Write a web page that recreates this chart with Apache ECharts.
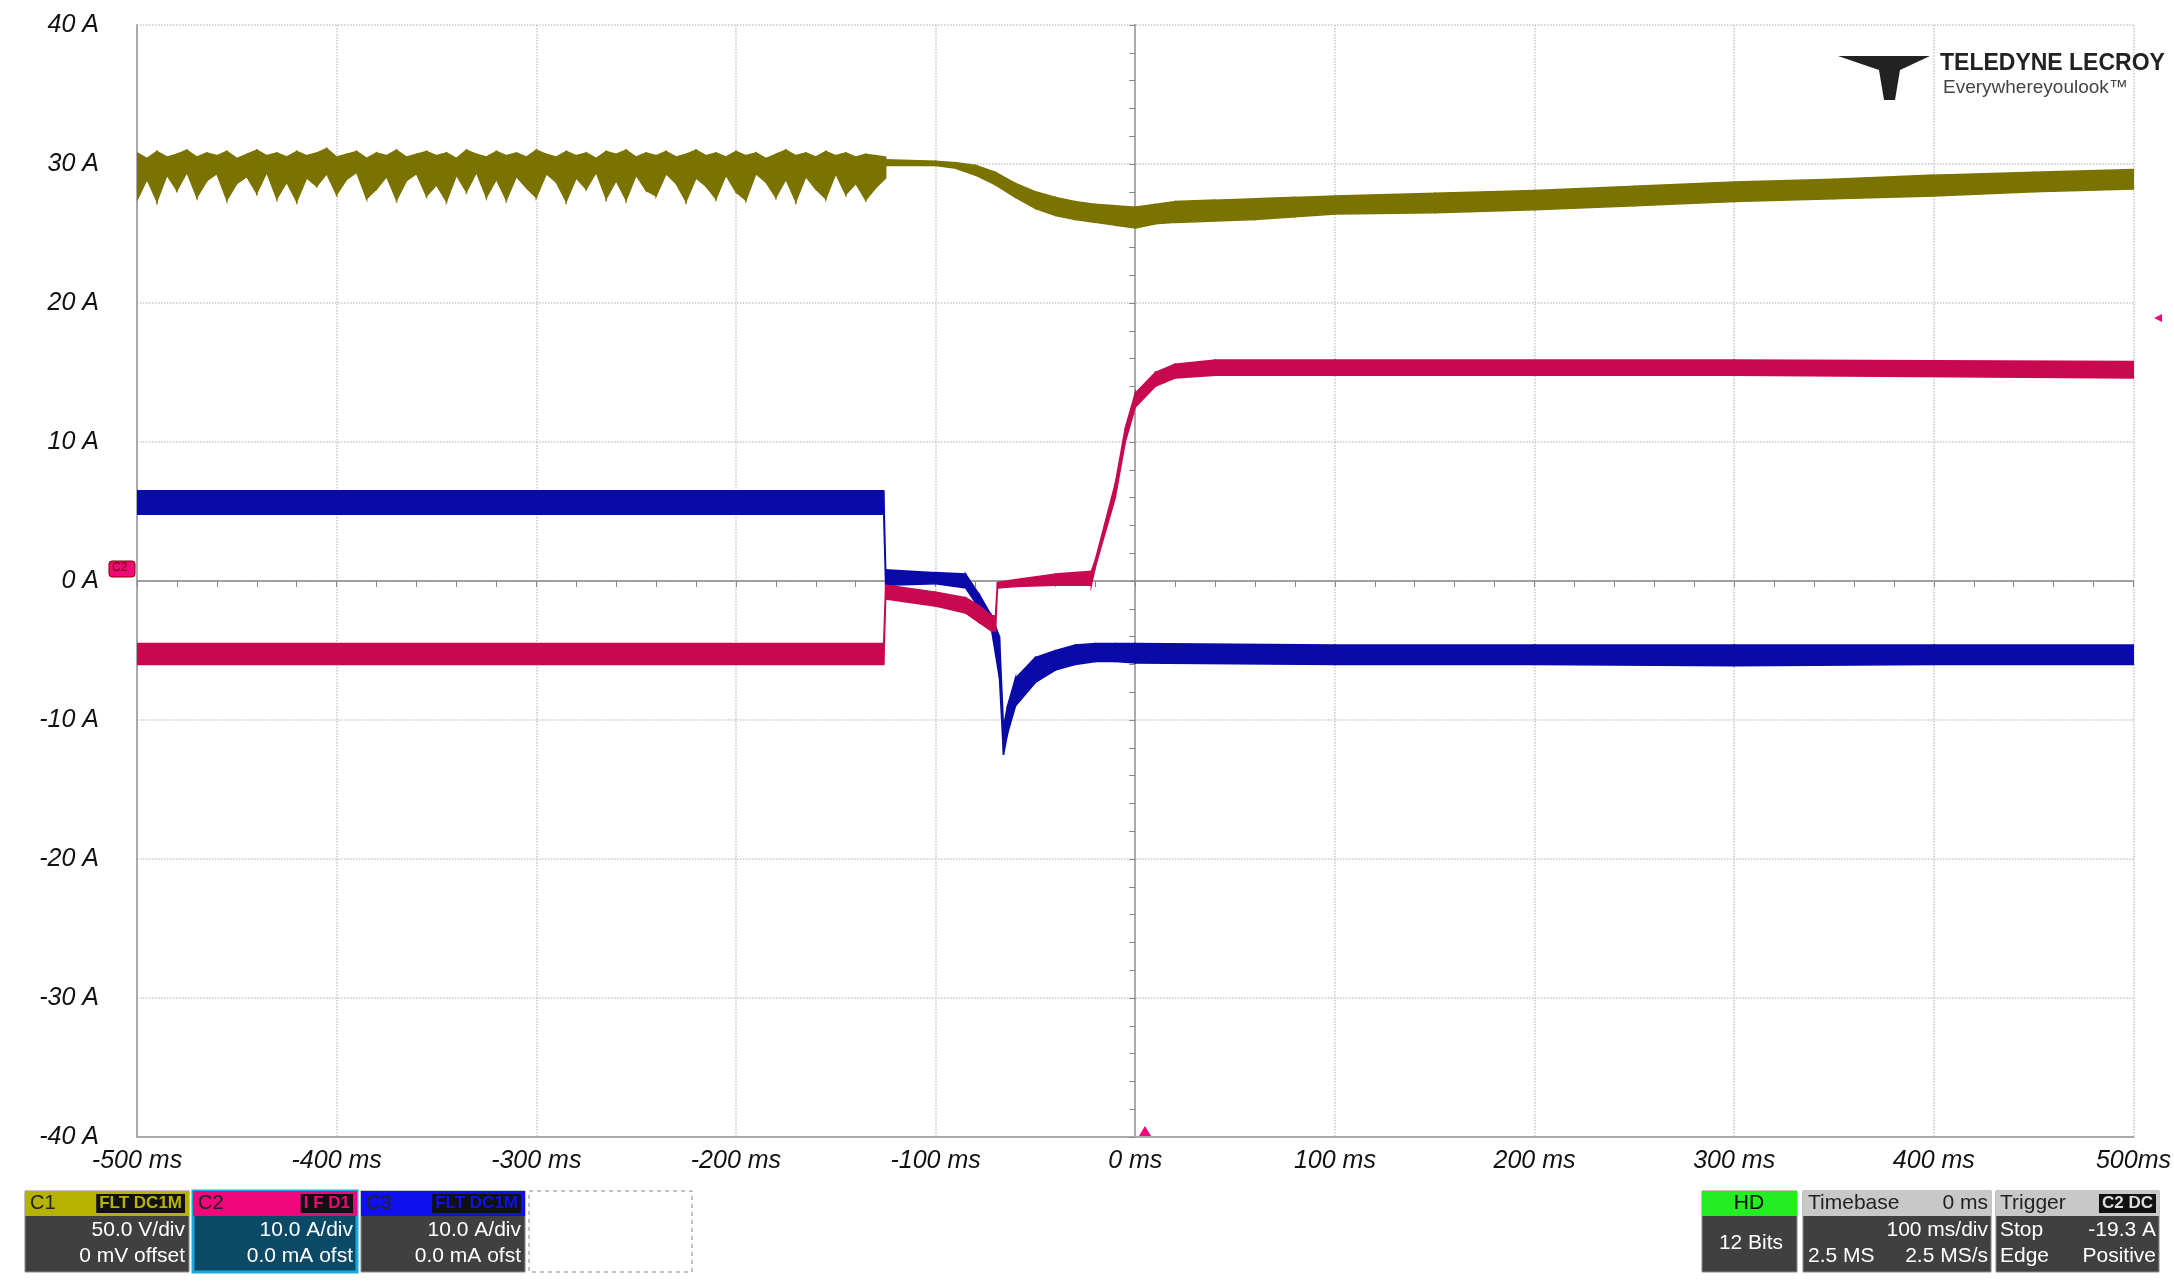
<!DOCTYPE html>
<html><head><meta charset="utf-8">
<script src="https://cdn.jsdelivr.net/npm/echarts@6/dist/echarts.min.js"></script>
<style>html,body{margin:0;padding:0;background:#fff}#c{width:2174px;height:1285px}</style>
</head><body><div id="c"></div>
<script>
// ---- data ----
const yPreT = [-500,-495,-490,-485,-480,-475,-470,-465,-460,-455,-450,-445,-440,-435,-430,-425,-420,-415,-410,-405,-400,-395,-390,-385,-380,-375,-370,-365,-360,-355,-350,-345,-340,-335,-330,-325,-320,-315,-310,-305,-300,-295,-290,-285,-280,-275,-270,-265,-260,-255,-250,-245,-240,-235,-230,-225,-220,-215,-210,-205,-200,-195,-190,-185,-180,-175,-170,-165,-160,-155,-150,-145,-140,-135,-130,-125];
const yPreLow = [27.4,28.9,27.3,29.2,28.1,29.4,27.6,28.8,29.3,27.4,28.6,29.1,27.9,29.4,27.5,28.7,27.3,29.0,28.4,29.3,27.8,28.9,29.4,27.5,28.2,29.1,27.4,28.8,29.3,27.7,28.5,27.3,29.2,28.0,29.4,27.6,28.9,27.4,29.1,28.3,27.6,29.3,28.7,27.3,29.0,28.2,29.4,27.5,28.8,27.4,29.2,28.1,27.7,29.3,28.6,27.3,29.0,28.4,27.5,29.2,28.0,27.4,29.3,28.7,27.6,28.9,27.3,29.1,28.2,27.5,29.3,27.8,28.6,27.4,28.3,29.0];
const yPreHigh = [30.8,30.4,30.9,30.5,30.7,31.0,30.5,30.8,30.6,30.9,30.4,30.7,31.0,30.6,30.8,30.5,30.9,30.6,30.8,31.1,30.5,30.7,30.9,30.4,30.8,30.6,31.0,30.5,30.7,30.9,30.6,30.8,30.4,31.0,30.7,30.5,30.9,30.6,30.8,30.5,31.0,30.7,30.5,30.9,30.6,30.8,30.4,30.9,30.7,31.0,30.5,30.8,30.6,30.9,30.5,30.7,31.0,30.6,30.8,30.5,30.9,30.6,30.8,30.4,30.7,31.0,30.6,30.8,30.5,30.9,30.6,30.8,30.5,30.7,30.6,30.5];
const yPostT = [-125,-100,-90,-80,-70,-60,-50,-40,-30,-20,-10,0,10,20,40,60,80,100,150,200,250,300,350,400,450,500];
const yPostHigh = [30.3,30.2,30.1,29.9,29.4,28.6,28.0,27.6,27.3,27.1,27.0,26.9,27.1,27.3,27.4,27.5,27.6,27.7,27.9,28.1,28.4,28.7,28.9,29.2,29.4,29.6];
const yPostLow = [29.9,29.9,29.7,29.2,28.5,27.6,26.8,26.3,26.0,25.8,25.6,25.4,25.7,25.8,25.9,26.0,26.2,26.4,26.5,26.7,27.0,27.3,27.5,27.7,28.0,28.2];

const bT = [-500,-126,-125,-100,-85,-78,-72,-68,-66,-64,-60,-50,-40,-30,-20,-10,0,100,200,300,400,500];
const bLow = [4.8,4.8,-0.3,-0.2,-0.5,-2.0,-3.5,-7.0,-12.5,-11.0,-9.0,-7.3,-6.4,-6.0,-5.8,-5.8,-5.9,-6.0,-6.0,-6.1,-6.0,-6.0];
const bHigh = [6.5,6.5,0.8,0.6,0.5,-1.0,-2.5,-4.0,-10.5,-9.0,-7.0,-5.5,-5.0,-4.6,-4.5,-4.5,-4.5,-4.6,-4.6,-4.6,-4.6,-4.6];

const pT = [-500,-126,-125,-100,-85,-78,-72,-70,-69,-60,-40,-22,-20,-10,-5,0,10,20,40,100,300,500];
const pLow = [-6.0,-6.0,-1.3,-1.8,-2.3,-3.0,-3.6,-3.6,-0.5,-0.4,-0.3,-0.3,1.0,6.0,10.0,12.5,14.0,14.6,14.8,14.8,14.8,14.6];
const pHigh = [-4.5,-4.5,-0.3,-0.8,-1.2,-1.8,-2.5,-2.5,-0.1,0.1,0.5,0.7,1.5,7.0,11.0,13.5,15.0,15.6,15.9,15.9,15.9,15.8];

const xTicks = ['-500 ms','-400 ms','-300 ms','-200 ms','-100 ms','0 ms','100 ms','200 ms','300 ms','400 ms','500ms'];
const yTicks = ['-40 A','-30 A','-20 A','-10 A','0 A','10 A','20 A','30 A','40 A'];

// ---- helpers ----
function band(name, t, low, high, color) {
  const data = t.map((x,i)=>[x, low[i], high[i]]);
  return {
    name:name, type:'custom', data:data, z:5, animation:false, clip:true,
    encode:{x:0, y:[1,2]},
    renderItem:function(params, api){
      const i = params.dataIndex;
      if (i >= data.length-1) return null;
      const a = data[i], b = data[i+1];
      const pts = [api.coord([a[0],a[1]]), api.coord([b[0],b[1]]), api.coord([b[0],b[2]]), api.coord([a[0],a[2]])];
      return {type:'polygon', shape:{points:pts}, style:{fill:color, stroke:color, lineWidth:1.5}};
    }
  };
}
const YEL='#7a7300', PINK='#c8094f', BLUE='#0a0aa8';
const lab = {fontFamily:'Liberation Sans', fontStyle:'italic', fontSize:25, color:'#111'};

const series = [
  band('C1a', yPreT, yPreLow, yPreHigh, YEL),
  band('C1b', yPostT, yPostLow, yPostHigh, YEL),
  band('C3', bT, bLow, bHigh, BLUE),
  band('C2', pT, pLow, pHigh, PINK)
];

function box(x,w,hdrColor,hdrText,hdrRight,bodyColor,l1,l2,border){
  return [
    {type:'rect',shape:{x:x,y:1191,width:w,height:81},style:{fill:bodyColor,stroke:border||'#888',lineWidth:border?3:1}},
    {type:'rect',shape:{x:x,y:1191,width:w,height:25},style:{fill:hdrColor}},
    {type:'text',x:x+5,y:1193,style:{text:hdrText,font:'20px Liberation Sans Narrow, Liberation Sans',fill:'#222'}},
    {type:'text',x:x+w-4,y:1194,style:{text:hdrRight,font:'bold 17px Liberation Sans Narrow, Liberation Sans',fill:hdrColor,align:'right',backgroundColor:'#111',padding:[1,3]}},
    {type:'text',x:x+w-4,y:1220,style:{text:l1,font:'21px Liberation Sans Narrow, Liberation Sans',fill:'#fff',align:'right'}},
    {type:'text',x:x+w-4,y:1246,style:{text:l2,font:'21px Liberation Sans Narrow, Liberation Sans',fill:'#fff',align:'right'}}
  ];
}

const graphic = [].concat(
  box(25,164,'#b5b300','C1','FLT DC1M','#404040','50.0 V/div','0 mV offset'),
  box(193,164,'#f0077a','C2','I F D1','#0a4a66','10.0 A/div','0.0 mA ofst','#1aa8e0'),
  box(361,164,'#1010ee','C3','FLT DC1M','#404040','10.0 A/div','0.0 mA ofst'),
  [
    {type:'rect',shape:{x:529,y:1191,width:163,height:81},style:{fill:'none',stroke:'#888',lineDash:[4,4]}},
    {type:'rect',shape:{x:1702,y:1191,width:95,height:81},style:{fill:'#404040',stroke:'#888'}},
    {type:'rect',shape:{x:1702,y:1191,width:95,height:25},style:{fill:'#22ee22'}},
    {type:'text',x:1749,y:1193,style:{text:'HD',font:'21px Liberation Sans',fill:'#000',align:'center'}},
    {type:'text',x:1751,y:1233,style:{text:'12 Bits',font:'21px Liberation Sans Narrow, Liberation Sans',fill:'#fff',align:'center'}},
    {type:'rect',shape:{x:1803,y:1191,width:188,height:81},style:{fill:'#404040',stroke:'#888'}},
    {type:'rect',shape:{x:1803,y:1191,width:188,height:25},style:{fill:'#c8c8c8'}},
    {type:'text',x:1808,y:1193,style:{text:'Timebase',font:'21px Liberation Sans Narrow, Liberation Sans',fill:'#222'}},
    {type:'text',x:1988,y:1193,style:{text:'0 ms',font:'21px Liberation Sans Narrow, Liberation Sans',fill:'#222',align:'right'}},
    {type:'text',x:1988,y:1220,style:{text:'100 ms/div',font:'21px Liberation Sans Narrow, Liberation Sans',fill:'#fff',align:'right'}},
    {type:'text',x:1808,y:1246,style:{text:'2.5 MS',font:'21px Liberation Sans Narrow, Liberation Sans',fill:'#fff'}},
    {type:'text',x:1988,y:1246,style:{text:'2.5 MS/s',font:'21px Liberation Sans Narrow, Liberation Sans',fill:'#fff',align:'right'}},
    {type:'rect',shape:{x:1996,y:1191,width:163,height:81},style:{fill:'#404040',stroke:'#888'}},
    {type:'rect',shape:{x:1996,y:1191,width:163,height:25},style:{fill:'#c8c8c8'}},
    {type:'text',x:2000,y:1193,style:{text:'Trigger',font:'21px Liberation Sans Narrow, Liberation Sans',fill:'#222'}},
    {type:'text',x:2156,y:1194,style:{text:'C2 DC',font:'bold 17px Liberation Sans Narrow, Liberation Sans',fill:'#ddd',align:'right',backgroundColor:'#111',padding:[1,3]}},
    {type:'text',x:2000,y:1220,style:{text:'Stop',font:'21px Liberation Sans Narrow, Liberation Sans',fill:'#fff'}},
    {type:'text',x:2156,y:1220,style:{text:'-19.3 A',font:'21px Liberation Sans Narrow, Liberation Sans',fill:'#fff',align:'right'}},
    {type:'text',x:2000,y:1246,style:{text:'Edge',font:'21px Liberation Sans Narrow, Liberation Sans',fill:'#fff'}},
    {type:'text',x:2156,y:1246,style:{text:'Positive',font:'21px Liberation Sans Narrow, Liberation Sans',fill:'#fff',align:'right'}},
    // logo
    {type:'polygon',z:100,shape:{points:[[1838,56],[1930,56],[1900,70],[1895,100],[1884,100],[1879,70]]},style:{fill:'#222'}},
    {type:'text',z:100,x:1940,y:52,style:{text:'TELEDYNE LECROY',font:'bold 23px Liberation Sans Narrow, Liberation Sans',fill:'#222'}},
    {type:'text',z:100,x:1943,y:78,style:{text:'Everywhereyoulook™',font:'19px Liberation Sans',fill:'#444'}},
    // C2 marker and trigger markers
    {type:'rect',z:100,shape:{x:109,y:561,width:26,height:16,r:3},style:{fill:'#f0077a',stroke:'#800'}},
    {type:'text',z:100,x:112,y:562,style:{text:'C2',font:'12px Liberation Sans',fill:'#600'}},
    {type:'polygon',z:100,shape:{points:[[1139,1136],[1151,1136],[1145,1126]]},style:{fill:'#f0077a'}},
    {type:'polygon',z:100,shape:{points:[[2162,314],[2162,322],[2154,318]]},style:{fill:'#f0077a'}}
  ]
);

const chart = echarts.init(document.getElementById('c'));
chart.setOption({
  animation:false,
  backgroundColor:'#fff',
  grid:{left:137,right:24,top:25,bottom:148,containLabel:false},
  xAxis:[
    {type:'value',min:-500,max:500,interval:100,position:'bottom',
     axisLine:{onZero:false,show:true,lineStyle:{color:'#aaa',width:2}},axisTick:{show:false},
     splitLine:{show:true,lineStyle:{color:'#c8c8c8',type:'dotted',width:1.5}},
     axisLabel:Object.assign({},lab,{margin:12,formatter:(v)=>xTicks[Math.round((v+500)/100)]})},
    {type:'value',min:-500,max:500,interval:20,
     axisLine:{onZero:true,show:true,lineStyle:{color:'#888',width:1.5}},
     axisTick:{show:true,inside:true,length:6,lineStyle:{color:'#888'}},
     axisLabel:{show:false},splitLine:{show:false}}
  ],
  yAxis:[
    {type:'value',min:-40,max:40,interval:10,position:'left',
     axisLine:{onZero:false,show:true,lineStyle:{color:'#aaa',width:2}},axisTick:{show:false},
     splitLine:{show:true,lineStyle:{color:'#c8c8c8',type:'dotted',width:1.5}},
     axisLabel:Object.assign({},lab,{margin:38,formatter:(v)=>yTicks[Math.round((v+40)/10)]})},
    {type:'value',min:-40,max:40,interval:2,
     axisLine:{onZero:true,show:true,lineStyle:{color:'#888',width:1.5}},
     axisTick:{show:true,inside:true,length:6,lineStyle:{color:'#888'}},
     axisLabel:{show:false},splitLine:{show:false}},
    {type:'value',min:-40,max:40,interval:10,position:'right',
     axisLine:{show:true,lineStyle:{color:'#aaa',width:2}},axisTick:{show:false},axisLabel:{show:false},splitLine:{show:false}}
  ],
  series: series,
  graphic: graphic
});
</script></body></html>
